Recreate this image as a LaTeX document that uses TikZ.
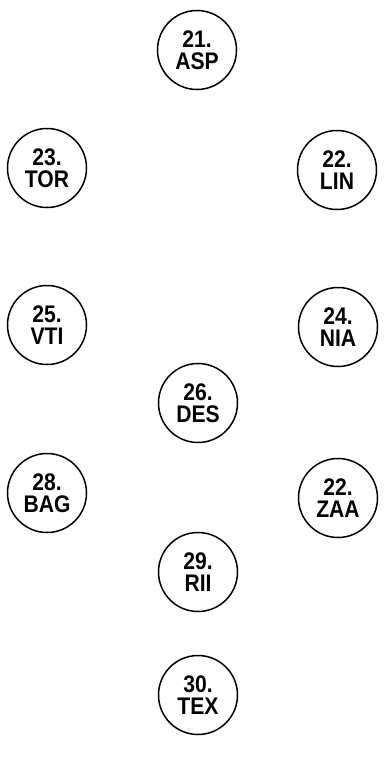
\documentclass[tikz,border=0pt]{standalone}
\usepackage{fontspec}
\setmainfont{Liberation Sans}
\newfontfamily\narrowfont[FakeStretch=0.88]{Liberation Sans}
\begin{document}
\begin{tikzpicture}[x=1pt,y=-1pt,
  site/.style={draw=black,line width=1.5pt,circle,minimum size=79pt,inner sep=0pt,
    align=center,font=\narrowfont\fontsize{24}{22.5}\selectfont\bfseries}]
\useasboundingbox (0,0) rectangle (388,771);
\node[site] (asp) at (197,50) {21.\\ASP};
\node[site] (tor) at (47,168) {23.\\TOR};
\node[site] (lin) at (337,170) {22.\\LIN};
\node[site] (vti) at (47,325) {25.\\VTI};
\node[site] (nia) at (338,327) {24.\\NIA};
\node[site] (des) at (198,403) {26.\\DES};
\node[site] (bag) at (47,493) {28.\\BAG};
\node[site] (zaa) at (338,498) {22.\\ZAA};
\node[site] (rii) at (198,572) {29.\\RII};
\node[site] (tex) at (198,695) {30.\\TEX};
\end{tikzpicture}
\end{document}
